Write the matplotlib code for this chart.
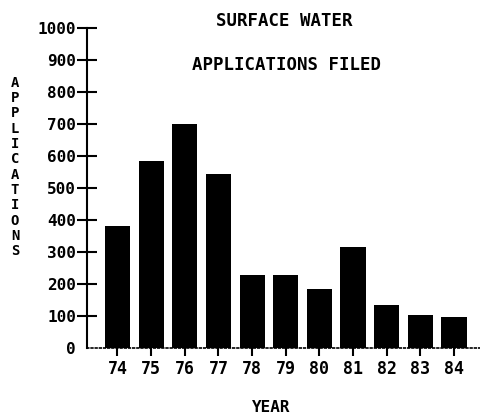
import matplotlib
matplotlib.use("Agg")
import matplotlib.pyplot as plt

years = ["74", "75", "76", "77", "78", "79", "80", "81", "82", "83", "84"]
applications = [380, 585, 700, 543, 228, 228, 183, 317, 133, 104, 98]
yticks = [0, 100, 200, 300, 400, 500, 600, 700, 800, 900, 1000]

FONT = "DejaVu Sans Mono"
fig = plt.figure(figsize=(4.8, 4.17), dpi=100)
ax = fig.add_axes([87/480, 69/417, 393/480, 320/417])

x = list(range(len(years)))
ax.bar(x, applications, width=0.75, color="black")

ax.set_xlim(-0.906, 10.77)
ax.set_ylim(0, 1000)
ax.set_xticks(x)
ax.set_xticklabels(years, fontfamily=FONT, fontweight="bold", fontsize=12)
ax.set_yticks(yticks)
ax.set_yticklabels([str(v) for v in yticks], fontfamily=FONT, fontweight="bold", fontsize=11.5)

ax.tick_params(axis="y", direction="inout", length=14, width=1.5, pad=1)
ax.tick_params(axis="x", direction="out", length=6, width=1.5, pad=3)
ax.yaxis.get_major_ticks()[0].tick1line.set_visible(False)

for s in ["top", "right"]:
    ax.spines[s].set_visible(False)
ax.spines["left"].set_linewidth(1.5)
ax.spines["bottom"].set_linestyle((0, (1, 1.5)))
ax.spines["bottom"].set_linewidth(1.2)

fig.text(284/480, 1 - 21/417, "SURFACE WATER", ha="center", va="center",
         fontfamily=FONT, fontweight="bold", fontsize=12.5)
fig.text(286/480, 1 - 65/417, "APPLICATIONS FILED", ha="center", va="center",
         fontfamily=FONT, fontweight="bold", fontsize=12.5)
fig.text(15/480, 1 - 167/417, "\n".join("APPLICATIONS"), ha="center", va="center",
         fontfamily=FONT, fontweight="bold", fontsize=10, linespacing=1.12)
fig.text(271/480, 1 - 408/417, "YEAR", ha="center", va="center",
         fontfamily=FONT, fontweight="bold", fontsize=11.5)

fig.savefig("out.png", dpi=100)
